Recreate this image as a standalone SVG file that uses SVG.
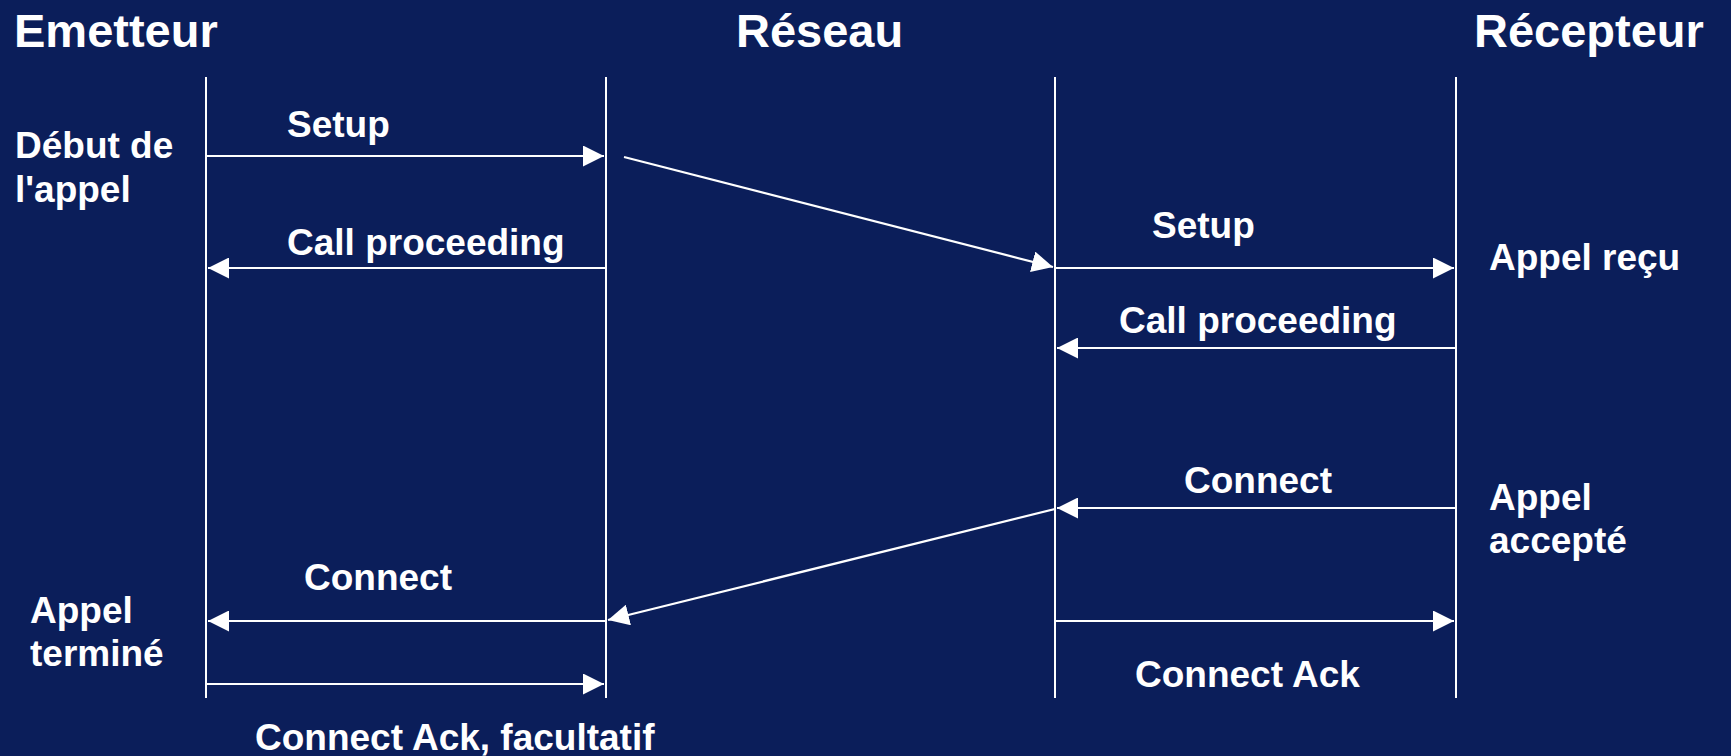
<svg xmlns="http://www.w3.org/2000/svg" width="1731" height="756" viewBox="0 0 1731 756">
<defs>
<style>
text{font-family:"Liberation Sans",Arial,sans-serif;font-weight:bold;fill:#fff}
.t{font-size:47px}
.l{font-size:37px}
.life{stroke:#fff;stroke-width:2;fill:none}
.msg{stroke:#fff;stroke-width:2.2;fill:none;marker-end:url(#ah)}
</style>
<marker id="ah" viewBox="0 0 20 20" refX="20" refY="10" markerWidth="21" markerHeight="21" markerUnits="userSpaceOnUse" orient="auto">
<path d="M0,0 L20,10 L0,20 z" fill="#fff"/>
</marker>
</defs>
<rect width="1731" height="756" fill="#0b1e5a"/>
<g id="emetteur">
<text class="t" x="14" y="47">Emetteur</text>
<line class="life" x1="206" y1="77" x2="206" y2="698"/>
</g>
<g id="reseau">
<text class="t" x="736" y="47">Réseau</text>
<line class="life" x1="606" y1="77" x2="606" y2="698"/>
<line class="life" x1="1055" y1="77" x2="1055" y2="698"/>
</g>
<g id="recepteur">
<text class="t" x="1474" y="47">Récepteur</text>
<line class="life" x1="1456" y1="77" x2="1456" y2="698"/>
</g>
<g id="debut">
<text class="l" x="15" y="158">Début de</text>
<text class="l" x="15" y="202">l'appel</text>
</g>
<g id="recu">
<text class="l" x="1489" y="270">Appel reçu</text>
</g>
<g id="accepte">
<text class="l" x="1489" y="510">Appel</text>
<text class="l" x="1489" y="553">accepté</text>
</g>
<g id="termine">
<text class="l" x="30" y="623">Appel</text>
<text class="l" x="30" y="666">terminé</text>
</g>
<g id="connectors">
<line class="msg" x1="206" y1="156" x2="604" y2="156"/>
<text class="l" x="287" y="137">Setup</text>
<line class="msg" x1="624" y1="157" x2="1053" y2="267"/>
<line class="msg" x1="1055" y1="268" x2="1454" y2="268"/>
<text class="l" x="1152" y="238">Setup</text>
<line class="msg" x1="606" y1="268" x2="208" y2="268"/>
<text class="l" x="287" y="255">Call proceeding</text>
<line class="msg" x1="1456" y1="348" x2="1057" y2="348"/>
<text class="l" x="1119" y="333">Call proceeding</text>
<line class="msg" x1="1456" y1="508" x2="1057" y2="508"/>
<text class="l" x="1184" y="493">Connect</text>
<line class="msg" x1="1055" y1="509" x2="608" y2="620"/>
<line class="msg" x1="606" y1="621" x2="208" y2="621"/>
<text class="l" x="304" y="590">Connect</text>
<line class="msg" x1="1055" y1="621" x2="1454" y2="621"/>
<text class="l" x="1135" y="687">Connect Ack</text>
<line class="msg" x1="206" y1="684" x2="604" y2="684"/>
<text class="l" x="255" y="750">Connect Ack, facultatif</text>
</g>
</svg>
